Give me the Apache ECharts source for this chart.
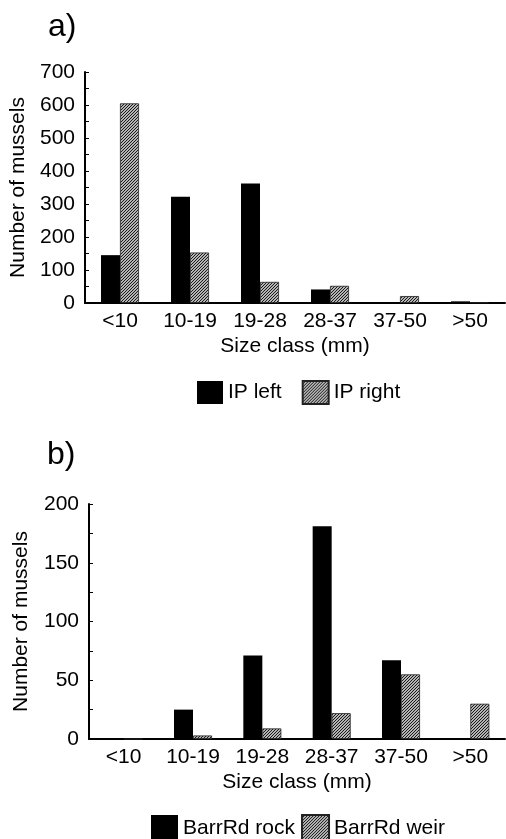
<!DOCTYPE html>
<html>
<head>
<meta charset="utf-8">
<script src="https://cdn.jsdelivr.net/npm/echarts@6/dist/echarts.min.js"></script>
<style>
html,body{margin:0;padding:0;background:#fff;}
#main{width:506px;height:839px;}
</style>
</head>
<body>
<div id="main"></div>
<script>
// size classes (mm)
var sizeClass = ['<10', '10-19', '19-28', '28-37', '37-50', '>50'];
// a) Indooroopilly
var ipLeft  = [145, 322, 362, 41, 0, 5];
var ipRight = [605, 153, 64, 52, 21, 2];
// b) Barr Rd
var barrRock = [0, 25, 71, 181, 67, 0];
var barrWeir = [0, 3, 9, 22, 55, 30];

var font = 'Liberation Sans, Arial, Helvetica, sans-serif';

// hatch fill
function hatch() {
	var c = document.createElement('canvas');
	c.width = 3; c.height = 3;
	var g = c.getContext('2d');
	g.fillStyle = '#b4b4b4';
	g.fillRect(0, 0, 3, 3);
	g.strokeStyle = '#1a1a1a';
	g.lineWidth = 1;
	g.beginPath();
	g.moveTo(0, 3); g.lineTo(3, 0);
	g.moveTo(-1, 1); g.lineTo(1, -1);
	g.moveTo(2, 4); g.lineTo(4, 2);
	g.stroke();
	return {image: c, repeat: 'repeat'};
}
var hatchFill = hatch();

function xAx(idx) {
	return {
		type: 'category', gridIndex: idx, data: sizeClass,
		name: 'Size class (mm)', nameLocation: 'middle', nameGap: 33,
		nameTextStyle: {fontFamily: font, fontSize: 21, color: '#000'},
		axisLine: {lineStyle: {color: '#000', width: 2}},
		axisTick: {show: false},
		axisLabel: {fontFamily: font, fontSize: 21, color: '#000', margin: 8, interval: 0}
	};
}
function yAx(idx, max, step, gap) {
	return {
		type: 'value', gridIndex: idx, min: 0, max: max, interval: step,
		name: 'Number of mussels', nameLocation: 'middle', nameGap: gap,
		nameTextStyle: {fontFamily: font, fontSize: 21, color: '#000'},
		axisLine: {show: true, lineStyle: {color: '#000', width: 2}},
		axisTick: {show: true, inside: true, length: 4, lineStyle: {color: '#000'}},
		minorTick: {show: true, splitNumber: 2, length: 4, lineStyle: {color: '#000'}},
		splitLine: {show: false},
		axisLabel: {fontFamily: font, fontSize: 21, color: '#000', margin: 10}
	};
}
function bar(name, data, idx, hatched) {
	return {
		name: name, type: 'bar', xAxisIndex: idx, yAxisIndex: idx, data: data,
		barWidth: 19, barGap: '0%',
		itemStyle: hatched ? {color: hatchFill, borderColor: '#222', borderWidth: 0.8} : {color: '#000'}
	};
}

var chart = echarts.init(document.getElementById('main'));
chart.setOption({
	animation: false,
	title: [
		{text: 'a)', left: 43, top: 6, textStyle: {fontFamily: font, fontSize: 32, fontWeight: 'normal', color: '#000'}},
		{text: 'b)', left: 42, top: 434, textStyle: {fontFamily: font, fontSize: 32, fontWeight: 'normal', color: '#000'}}
	],
	grid: [
		{left: 82, top: 72, width: 423, height: 231},
		{left: 89, top: 504, width: 416, height: 235}
	],
	legend: [
		{data: ['IP left', 'IP right'], left: 192, top: 375, itemWidth: 26, itemHeight: 23, itemGap: 20, icon: 'rect',
			textStyle: {fontFamily: font, fontSize: 21, color: '#000'}},
		{data: ['BarrRd rock', 'BarrRd weir'], left: 146, top: 809, itemWidth: 27, itemHeight: 27, itemGap: 6, icon: 'rect',
			textStyle: {fontFamily: font, fontSize: 21, color: '#000'}}
	],
	xAxis: [xAx(0), xAx(1)],
	yAxis: [yAx(0, 700, 100, 56), yAx(1, 200, 50, 57)],
	series: [
		bar('IP left', ipLeft, 0, false),
		bar('IP right', ipRight, 0, true),
		bar('BarrRd rock', barrRock, 1, false),
		bar('BarrRd weir', barrWeir, 1, true)
	]
});
</script>
</body>
</html>
